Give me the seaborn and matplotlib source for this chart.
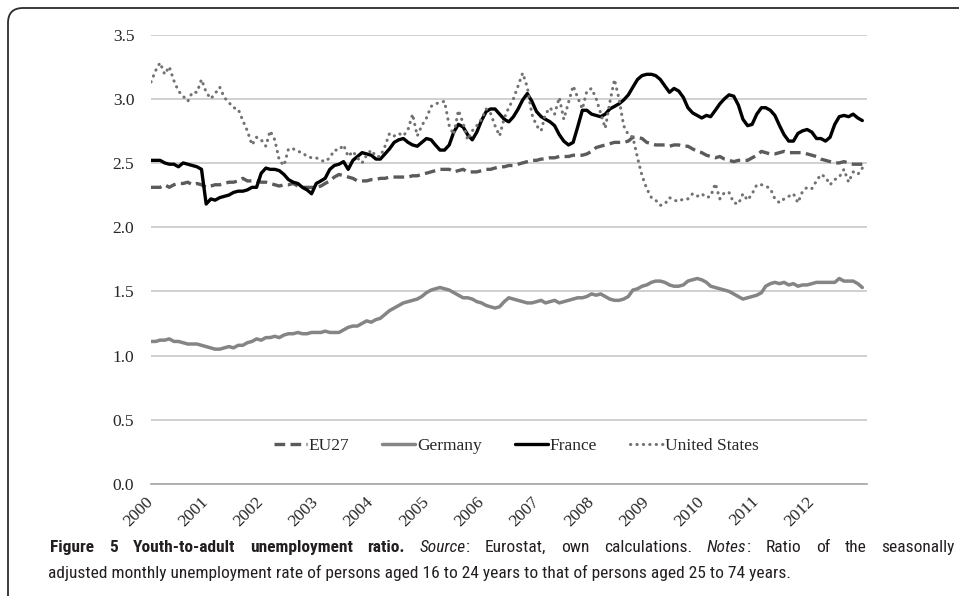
# ======================
# Import Libraries
# ======================

import pandas as pd
import matplotlib
matplotlib.use("Agg")
import matplotlib.pyplot as plt
from matplotlib.patches import FancyBboxPatch
from matplotlib.font_manager import fontManager
import seaborn as sns

# ======================
# Data (monthly, Jan 2000 - Dec 2012)
# ======================

eu27 = [
    2.31, 2.31, 2.31, 2.33, 2.31, 2.33, 2.34, 2.34, 2.35, 2.33, 2.34, 2.33,
    2.31, 2.32, 2.33, 2.33, 2.34, 2.35, 2.35, 2.36, 2.38, 2.36, 2.36, 2.36,
    2.35, 2.35, 2.34, 2.33, 2.32, 2.33, 2.33, 2.34, 2.32, 2.31, 2.31, 2.31,
    2.31, 2.32, 2.34, 2.36, 2.39, 2.41, 2.40, 2.39, 2.38, 2.36, 2.36, 2.36,
    2.37, 2.37, 2.38, 2.38, 2.39, 2.39, 2.39, 2.39, 2.39, 2.40, 2.40, 2.41,
    2.42, 2.43, 2.44, 2.45, 2.45, 2.45, 2.43, 2.44, 2.45, 2.43, 2.43, 2.43,
    2.44, 2.45, 2.45, 2.46, 2.47, 2.47, 2.48, 2.48, 2.49, 2.50, 2.51, 2.52,
    2.52, 2.53, 2.53, 2.54, 2.54, 2.55, 2.55, 2.55, 2.56, 2.56, 2.56, 2.57,
    2.59, 2.62, 2.63, 2.64, 2.65, 2.66, 2.66, 2.66, 2.67, 2.70, 2.70, 2.69,
    2.66, 2.65, 2.64, 2.64, 2.64, 2.63, 2.64, 2.64, 2.63, 2.63, 2.61, 2.59,
    2.58, 2.56, 2.55, 2.54, 2.55, 2.53, 2.52, 2.51, 2.52, 2.52, 2.52, 2.54,
    2.56, 2.59, 2.58, 2.57, 2.57, 2.58, 2.59, 2.58, 2.58, 2.58, 2.58, 2.57,
    2.56, 2.55, 2.53, 2.52, 2.51, 2.50, 2.50, 2.51, 2.50, 2.49, 2.49, 2.49,
]

germany = [
    1.11, 1.11, 1.12, 1.12, 1.13, 1.11, 1.11, 1.10, 1.09, 1.09, 1.09, 1.08,
    1.07, 1.06, 1.05, 1.05, 1.06, 1.07, 1.06, 1.08, 1.08, 1.10, 1.11, 1.13,
    1.12, 1.14, 1.14, 1.15, 1.14, 1.16, 1.17, 1.17, 1.18, 1.17, 1.17, 1.18,
    1.18, 1.18, 1.19, 1.18, 1.18, 1.18, 1.20, 1.22, 1.23, 1.23, 1.25, 1.27,
    1.26, 1.28, 1.29, 1.32, 1.35, 1.37, 1.39, 1.41, 1.42, 1.43, 1.44, 1.46,
    1.49, 1.51, 1.52, 1.53, 1.52, 1.51, 1.49, 1.47, 1.45, 1.45, 1.44, 1.42,
    1.41, 1.39, 1.38, 1.37, 1.38, 1.42, 1.45, 1.44, 1.43, 1.42, 1.41, 1.41,
    1.42, 1.43, 1.41, 1.42, 1.43, 1.41, 1.42, 1.43, 1.44, 1.45, 1.45, 1.46,
    1.48, 1.47, 1.48, 1.46, 1.44, 1.43, 1.43, 1.44, 1.46, 1.51, 1.52, 1.54,
    1.55, 1.57, 1.58, 1.58, 1.57, 1.55, 1.54, 1.54, 1.55, 1.58, 1.59, 1.60,
    1.59, 1.57, 1.54, 1.53, 1.52, 1.51, 1.50, 1.48, 1.46, 1.44, 1.45, 1.46,
    1.47, 1.49, 1.54, 1.56, 1.57, 1.56, 1.57, 1.55, 1.56, 1.54, 1.55, 1.55,
    1.56, 1.57, 1.57, 1.57, 1.57, 1.57, 1.60, 1.58, 1.58, 1.58, 1.56, 1.53,
]

france = [
    2.52, 2.52, 2.52, 2.50, 2.49, 2.49, 2.47, 2.50, 2.49, 2.48, 2.47, 2.45,
    2.18, 2.22, 2.21, 2.23, 2.24, 2.25, 2.27, 2.28, 2.28, 2.29, 2.31, 2.31,
    2.42, 2.46, 2.45, 2.45, 2.44, 2.41, 2.37, 2.35, 2.34, 2.31, 2.29, 2.26,
    2.34, 2.36, 2.38, 2.45, 2.48, 2.49, 2.51, 2.45, 2.52, 2.55, 2.58, 2.57,
    2.56, 2.53, 2.53, 2.57, 2.61, 2.66, 2.68, 2.69, 2.66, 2.64, 2.63, 2.66,
    2.69, 2.68, 2.64, 2.60, 2.60, 2.64, 2.74, 2.80, 2.78, 2.72, 2.68, 2.74,
    2.83, 2.90, 2.92, 2.92, 2.88, 2.84, 2.82, 2.86, 2.92, 2.99, 3.04, 2.98,
    2.90, 2.86, 2.84, 2.82, 2.79, 2.72, 2.67, 2.64, 2.66, 2.78, 2.91, 2.91,
    2.88, 2.87, 2.86, 2.88, 2.92, 2.94, 2.96, 2.99, 3.03, 3.09, 3.15, 3.18,
    3.19, 3.19, 3.18, 3.15, 3.10, 3.05, 3.08, 3.06, 3.01, 2.93, 2.89, 2.87,
    2.85, 2.87, 2.86, 2.91, 2.96, 3.00, 3.03, 3.02, 2.95, 2.84, 2.79, 2.80,
    2.88, 2.93, 2.93, 2.91, 2.87, 2.79, 2.72, 2.67, 2.67, 2.73, 2.75, 2.76,
    2.74, 2.69, 2.69, 2.67, 2.70, 2.80, 2.86, 2.87, 2.86, 2.88, 2.85, 2.83,
]

united_states = [
    3.13, 3.22, 3.28, 3.19, 3.25, 3.14, 3.06, 3.02, 2.98, 3.05, 3.05, 3.15,
    3.05, 3.00, 3.04, 3.09, 3.01, 2.97, 2.93, 2.92, 2.83, 2.75, 2.64, 2.70,
    2.68, 2.63, 2.75, 2.68, 2.52, 2.48, 2.61, 2.61, 2.59, 2.58, 2.55, 2.54,
    2.54, 2.52, 2.51, 2.54, 2.60, 2.60, 2.64, 2.55, 2.59, 2.54, 2.50, 2.56,
    2.60, 2.55, 2.55, 2.63, 2.73, 2.71, 2.73, 2.71, 2.76, 2.88, 2.71, 2.79,
    2.85, 2.94, 2.96, 2.97, 2.98, 2.79, 2.72, 2.91, 2.81, 2.68, 2.75, 2.79,
    2.84, 2.92, 2.89, 2.79, 2.71, 2.85, 2.93, 3.00, 3.10, 3.20, 3.09, 2.88,
    2.79, 2.75, 2.88, 2.93, 2.88, 3.01, 2.84, 2.97, 3.10, 3.01, 2.92, 3.06,
    3.08, 3.00, 2.89, 2.77, 2.97, 3.15, 3.00, 2.79, 2.72, 2.70, 2.54, 2.40,
    2.30, 2.23, 2.21, 2.17, 2.18, 2.23, 2.21, 2.20, 2.22, 2.22, 2.26, 2.24,
    2.26, 2.23, 2.24, 2.34, 2.22, 2.27, 2.27, 2.19, 2.18, 2.26, 2.21, 2.26,
    2.33, 2.33, 2.32, 2.30, 2.22, 2.19, 2.22, 2.24, 2.26, 2.19, 2.28, 2.31,
    2.30, 2.36, 2.41, 2.39, 2.33, 2.37, 2.39, 2.45, 2.35, 2.43, 2.41, 2.46,
]

year_labels = [str(y) for y in range(2000, 2013)]
y_ticks = [0.0, 0.5, 1.0, 1.5, 2.0, 2.5, 3.0, 3.5]

dates = pd.date_range("2000-01-01", periods=len(france), freq="MS")
df = pd.DataFrame({
    "date": dates,
    "EU27": eu27,
    "Germany": germany,
    "France": france,
    "United States": united_states,
})

# ======================
# Figure setup
# ======================

sns.set_style("white")
plt.rcParams["font.family"] = ["Liberation Serif", "DejaVu Serif"]

W, H = 959, 596
fig = plt.figure(figsize=(W / 100, H / 100), dpi=100)
ax = fig.add_axes([151 / W, 1 - 484 / H, (867 - 151) / W, (484 - 34.5) / H])

# ======================
# Lines
# ======================

sns.lineplot(data=df, x="date", y="EU27", ax=ax, color="#5b5b5b", lw=2.4,
             linestyle=(0, (3.2, 1.6)), errorbar=None, label="EU27")
sns.lineplot(data=df, x="date", y="Germany", ax=ax, color="#858585", lw=2.5,
             errorbar=None, label="Germany")
sns.lineplot(data=df, x="date", y="France", ax=ax, color="#000000", lw=2.4,
             errorbar=None, label="France")
sns.lineplot(data=df, x="date", y="United States", ax=ax, color="#727272",
             lw=2.2, linestyle=(0, (0.1, 2.0)), dash_capstyle="round",
             errorbar=None, label="United States")

# ======================
# Axes styling
# ======================

ax.set_ylim(0, 3.5)
ax.set_yticks(y_ticks)
ax.set_yticklabels([f"{v:.1f}" for v in y_ticks])

x_ticks = pd.date_range("2000-01-01", "2013-01-01", freq="YS")
ax.set_xlim(x_ticks[0], x_ticks[-1])
ax.set_xticks(x_ticks)
ax.set_xticklabels(year_labels + [""])
for lbl in ax.get_xticklabels():
    lbl.set_rotation(45)
    lbl.set_ha("right")
    lbl.set_va("center")
    lbl.set_rotation_mode("anchor")

ax.set_xlabel("")
ax.set_ylabel("")

ax.tick_params(axis="x", length=4, width=1, color="#a6a6a6", pad=7,
               labelsize=12.5)
ax.tick_params(axis="y", length=0, pad=12, labelsize=12.5)

for side in ["left", "top", "right"]:
    ax.spines[side].set_visible(False)
ax.spines["bottom"].set_color("#a6a6a6")
ax.spines["bottom"].set_linewidth(1.2)

ax.yaxis.grid(True, color="#c3c3c3", lw=1.1)
ax.xaxis.grid(False)
ax.set_axisbelow(True)

ax.legend(loc="center", bbox_to_anchor=(0.51, 0.085), ncol=4, frameon=False,
          handlelength=1.9, handletextpad=0.1, columnspacing=1.9,
          fontsize=12.5)

# ======================
# Frame around the figure
# ======================

frame = FancyBboxPatch((0.08, -1.0), 12.0, H / 100 - 0.08 + 1.0,
                       boxstyle="round,pad=0,rounding_size=0.15",
                       transform=fig.dpi_scale_trans, fill=False,
                       ec="#2b2b2b", lw=1.3)
fig.add_artist(frame)

# ======================
# Caption (first line justified, like the journal layout)
# ======================

installed = {f.name for f in fontManager.ttflist}
cap_family = "Liberation Sans"
for name in ["Liberation Sans Narrow", "Roboto Condensed", "Open Sans Condensed"]:
    if name in installed:
        cap_family = name
        break

renderer = fig.canvas.get_renderer()


def text_width(s, size, **kw):
    t = fig.text(0, 0, s, fontsize=size, family=cap_family, **kw)
    w = t.get_window_extent(renderer).width
    t.remove()
    return w


line2 = ("adjusted monthly unemployment rate of persons aged 16 to 24 "
         "years to that of persons aged 25 to 74 years.")
cap_size = 11 * 737 / text_width(line2, 11)

B = {"weight": "bold"}
I = {"style": "italic"}
R = {}
line1_words = [
    [("Figure", B)], [("5", B)], [("Youth-to-adult", B)],
    [("unemployment", B)], [("ratio.", B)],
    [("Source", I), (":", R)], [("Eurostat,", R)], [("own", R)],
    [("calculations.", R)], [("Notes", I), (":", R)], [("Ratio", R)],
    [("of", R)], [("the", R)], [("seasonally", R)],
]

x_left, x_right = 50, 955
word_widths = [sum(text_width(s, cap_size, **st) for s, st in w)
               for w in line1_words]
gap = (x_right - x_left - sum(word_widths)) / (len(line1_words) - 1)

x = x_left
for word, ww in zip(line1_words, word_widths):
    xx = x
    for s, st in word:
        fig.text(xx / W, 1 - 552 / H, s, fontsize=cap_size,
                 family=cap_family, va="baseline", ha="left",
                 color="#231f20", **st)
        xx += text_width(s, cap_size, **st)
    x += ww + gap

fig.text(48 / W, 1 - 578 / H, line2, fontsize=cap_size, family=cap_family,
         va="baseline", ha="left", color="#231f20")

fig.savefig("out.png", dpi=100)
